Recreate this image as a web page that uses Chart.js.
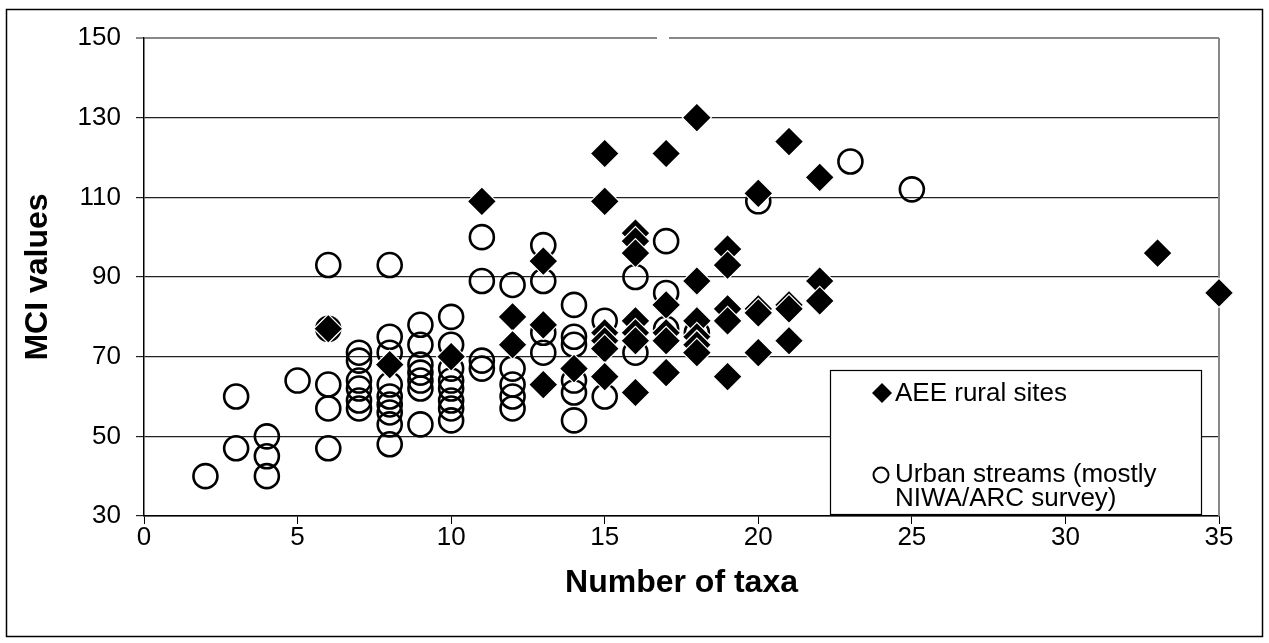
<!DOCTYPE html>
<html>
<head>
<meta charset="utf-8">
<title>MCI values vs number of taxa</title>
<script src="https://cdn.jsdelivr.net/npm/chart.js@4.4.1/dist/chart.umd.min.js"></script>
<style>
  html, body { margin: 0; padding: 0; background: #fff; }
  #wrap { width: 1269px; height: 643px; }
</style>
</head>
<body>
<div id="wrap"><canvas id="mciChart" width="1269" height="643"></canvas></div>
<script>
// AEE rural sites (diamonds)
const ruralTaxa = [6, 8, 10, 11, 12, 12, 13, 13, 13, 14,
    15, 15, 15, 15, 15, 15,
    16, 16, 16, 16, 16, 16, 16,
    17, 17, 17, 17, 17,
    18, 18, 18, 18, 18, 18,
    19, 19, 19, 19, 19,
    20, 20, 20, 20,
    21, 21, 21, 21,
    22, 22, 22, 33, 35]
const ruralMci = [77, 68, 70, 109, 80, 73, 94, 78, 63, 67,
    121, 109, 76, 74, 72, 65,
    101, 99, 96, 79, 76, 74, 61,
    121, 83, 76, 74, 66,
    130, 89, 79, 75, 73, 71,
    97, 93, 82, 79, 65,
    111, 82, 81, 71,
    124, 83, 82, 74,
    115, 89, 84, 96, 86]

// Urban streams (circles)
const urbanTaxa = [2, 3, 3, 4, 4, 4, 5,
    6, 6, 6, 6, 6,
    7, 7, 7, 7, 7, 7,
    8, 8, 8, 8, 8, 8, 8, 8, 8,
    9, 9, 9, 9, 9, 9, 9,
    10, 10, 10, 10, 10, 10, 10, 10,
    11, 11, 11, 11,
    12, 12, 12, 12, 12,
    13, 13, 13, 13,
    14, 14, 14, 14, 14, 14,
    15, 15, 16, 16, 17, 17, 17, 18, 20, 23, 25]
const urbanMci = [40, 60, 47, 50, 45, 40, 64,
    93, 77, 63, 57, 47,
    71, 69, 64, 62, 59, 57,
    93, 75, 71, 63, 60, 58, 56, 53, 48,
    78, 73, 68, 66, 64, 62, 53,
    80, 73, 67, 64, 62, 59, 57, 54,
    100, 89, 69, 67,
    88, 67, 63, 60, 57,
    98, 89, 76, 71,
    83, 75, 73, 64, 61, 54,
    79, 60, 90, 71, 99, 86, 77, 76, 109, 119, 112]

const xTicks = [0, 5, 10, 15, 20, 25, 30, 35]
const yTicks = [30, 50, 70, 90, 110, 130, 150]

const legendLabels = ["AEE rural sites", ["Urban streams (mostly", "NIWA/ARC survey)"]]

const FONT = '"Liberation Sans", Arial, sans-serif'

function toPoints(xs, ys) {
    return xs.map((x, i) => ({ x: x, y: ys[i] }))
}

// outer frame, right plot border and the boxed legend
const framePlugin = {
    id: 'frame',
    beforeDraw(chart) {
        const ctx = chart.ctx
        ctx.save()
        ctx.fillStyle = '#fff'
        ctx.fillRect(0, 0, chart.width, chart.height)
        ctx.restore()
    },
    beforeDatasetsDraw(chart) {
        const ctx = chart.ctx
        const a = chart.chartArea
        ctx.save()
        ctx.strokeStyle = '#888'
        ctx.lineWidth = 2
        ctx.beginPath()
        ctx.moveTo(a.right, a.top)
        ctx.lineTo(a.right, a.bottom)
        ctx.stroke()
        // small break in the top border, as in the original
        ctx.strokeStyle = '#fff'
        ctx.lineWidth = 3
        ctx.beginPath()
        ctx.moveTo(657, a.top)
        ctx.lineTo(669, a.top)
        ctx.stroke()
        ctx.restore()
    },
    afterDatasetsDraw(chart) {
        const ctx = chart.ctx
        ctx.save()
        ctx.strokeStyle = '#000'
        ctx.lineWidth = 1.5
        ctx.strokeRect(6.5, 9.5, 1256, 627)

        // legend box
        const lx = 830, ly = 370, lw = 371, lh = 144
        ctx.fillStyle = '#fff'
        ctx.fillRect(lx, ly, lw, lh)
        ctx.lineWidth = 1.2
        ctx.strokeRect(lx + 0.5, ly + 0.5, lw, lh)

        ctx.fillStyle = '#000'
        ctx.beginPath()
        ctx.moveTo(882, 383)
        ctx.lineTo(892, 393)
        ctx.lineTo(882, 403)
        ctx.lineTo(872, 393)
        ctx.closePath()
        ctx.fill()

        ctx.lineWidth = 2
        ctx.beginPath()
        ctx.arc(881, 475, 7.5, 0, Math.PI * 2)
        ctx.stroke()

        ctx.font = '26px ' + FONT
        ctx.textBaseline = 'middle'
        ctx.textAlign = 'left'
        ctx.fillText(legendLabels[0], 895, 394)
        ctx.fillText(legendLabels[1][0], 895, 475)
        ctx.fillText(legendLabels[1][1], 895, 499)
        ctx.restore()
    }
}

new Chart(document.getElementById('mciChart'), {
    type: 'scatter',
    data: {
        datasets: [{
            label: 'AEE rural sites',
            data: toPoints(ruralTaxa, ruralMci),
            pointStyle: 'rectRot',
            pointRadius: 14.5,
            backgroundColor: '#000',
            borderColor: '#fff',
            borderWidth: 1.2,
            clip: false
        }, {
            label: 'Urban streams (mostly NIWA/ARC survey)',
            data: toPoints(urbanTaxa, urbanMci),
            pointStyle: 'circle',
            pointRadius: 12,
            backgroundColor: 'rgba(0,0,0,0)',
            borderColor: '#000',
            borderWidth: 2.6,
            clip: false
        }]
    },
    options: {
        responsive: false,
        animation: false,
        events: [],
        layout: { padding: { left: 6, right: 50, top: 38, bottom: 10 } },
        plugins: {
            legend: { display: false },
            tooltip: { enabled: false }
        },
        scales: {
            x: {
                type: 'linear',
                min: 0,
                max: 35,
                afterBuildTicks: s => { s.ticks = xTicks.map(v => ({ value: v })) },
                afterFit: s => { s.height = 117 },
                border: { color: '#000', width: 1.5 },
                grid: { drawOnChartArea: false, drawTicks: true, tickLength: 8, color: '#000' },
                ticks: { color: '#000', padding: -2, font: { family: FONT, size: 26 } },
                title: {
                    display: true,
                    text: 'Number of taxa',
                    color: '#000',
                    padding: { top: 0, bottom: 31 },
                    font: { family: FONT, size: 32, weight: 'bold' }
                }
            },
            y: {
                type: 'linear',
                min: 30,
                max: 150,
                afterBuildTicks: s => { s.ticks = yTicks.map(v => ({ value: v })) },
                afterFit: s => { s.width = 138 },
                border: { color: '#000', width: 1.5 },
                grid: {
                    drawTicks: true,
                    tickLength: 8,
                    color: ctx => ctx.tick && ctx.tick.value === 150 ? '#888' : '#222',
                    lineWidth: ctx => ctx.tick && ctx.tick.value === 150 ? 2 : 1.2
                },
                ticks: { color: '#000', padding: 15, font: { family: FONT, size: 26 } },
                title: {
                    display: true,
                    text: 'MCI values',
                    color: '#000',
                    padding: { top: 13, bottom: 0 },
                    font: { family: FONT, size: 32, weight: 'bold' }
                }
            }
        }
    },
    plugins: [framePlugin]
})
</script>
</body>
</html>
